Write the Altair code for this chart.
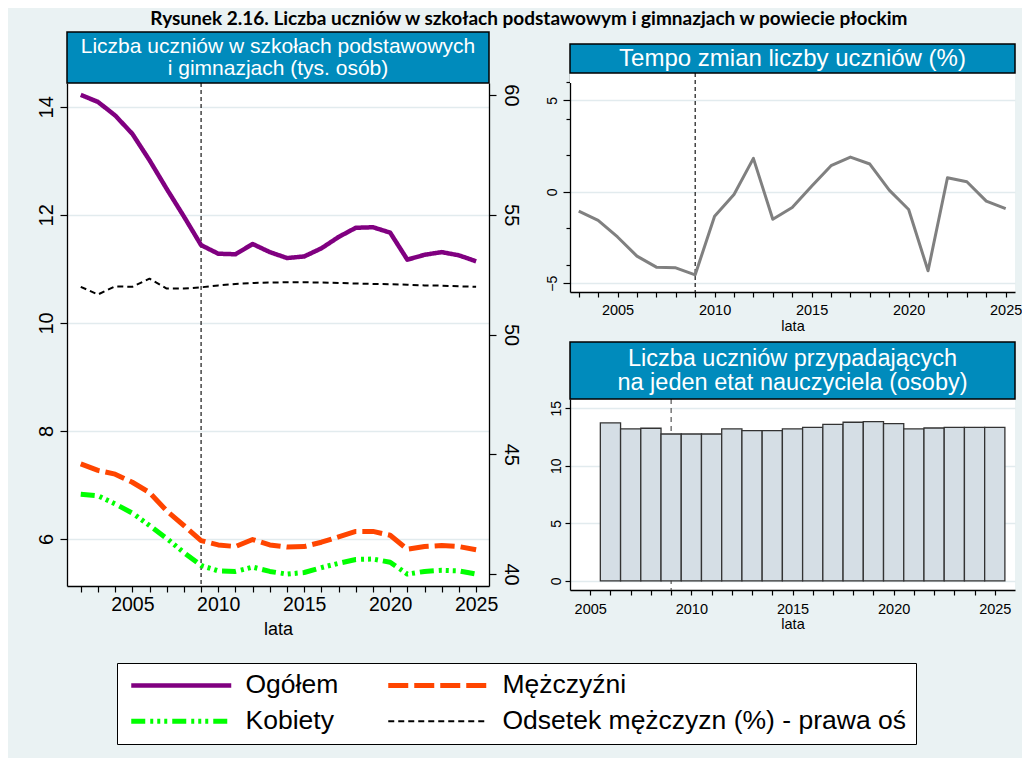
import altair as alt
import pandas as pd

# ---------------- data ----------------
YEARS = list(range(2002, 2026))
OGOLEM = [14.22, 14.09, 13.84, 13.50, 13.01, 12.48, 11.97, 11.44, 11.28, 11.27, 11.46, 11.31,
          11.20, 11.23, 11.38, 11.59, 11.76, 11.77, 11.67, 11.17, 11.26, 11.31, 11.25, 11.14]
MEZCZYZNI = [7.39, 7.27, 7.20, 7.05, 6.86, 6.52, 6.25, 5.97, 5.89, 5.86, 5.99, 5.89,
             5.85, 5.86, 5.94, 6.04, 6.14, 6.14, 6.07, 5.81, 5.86, 5.88, 5.86, 5.80]
KOBIETY = [6.83, 6.80, 6.65, 6.48, 6.25, 6.01, 5.75, 5.51, 5.41, 5.40, 5.48, 5.40,
           5.35, 5.38, 5.47, 5.55, 5.62, 5.63, 5.57, 5.35, 5.40, 5.42, 5.41, 5.35]
ODSETEK = [51.99, 51.67, 52.01, 51.99, 52.33, 51.92, 51.92, 51.97, 52.05, 52.11, 52.15, 52.17,
           52.18, 52.18, 52.17, 52.15, 52.13, 52.11, 52.10, 52.08, 52.05, 52.04, 52.01, 51.99]

TEMPO_YEARS = list(range(2003, 2026))
TEMPO = [-1.06, -1.56, -2.47, -3.52, -4.12, -4.16, -4.54, -1.34, -0.15, 1.83, -1.50, -0.86,
         0.31, 1.43, 1.90, 1.52, 0.09, -0.97, -4.32, 0.77, 0.55, -0.51, -0.92]

RATIO_YEARS = list(range(2006, 2026))
RATIO = [13.72, 13.20, 13.26, 12.76, 12.76, 12.76, 13.20, 13.05, 13.05, 13.20, 13.34, 13.60,
         13.78, 13.84, 13.66, 13.20, 13.28, 13.34, 13.34, 13.34]

DIVIDER_YEAR = 2009

SERIES = ["Ogółem", "Mężczyźni", "Kobiety", "Odsetek mężczyzn (%) - prawa oś"]
COLORS = ["#800080", "#FF4500", "#00FF00", "#000000"]
DASHES = [[1, 0], [20, 6], [14, 5, 3, 4, 3, 4, 3, 5], [6, 4]]
WIDTHS = [4.5, 5, 5, 2]

TITLE = "Rysunek 2.16. Liczba uczniów w szkołach podstawowym i gimnazjach w powiecie płockim"
HEAD_LEFT = ["Liczba uczniów w szkołach podstawowych", "i gimnazjach (tys. osób)"]
HEAD_TR = ["Tempo zmian liczby uczniów (%)"]
HEAD_BR = ["Liczba uczniów przypadających", "na jeden etat nauczyciela (osoby)"]
X_TITLE = "lata"

# ---------------- styles ----------------
BG = "#EAF2F3"
HEADER_BLUE = "#008BBC"
GRID = "#E2EBEE"
FONT = "Liberation Sans"

df_main = pd.DataFrame({
    "year": YEARS * 3,
    "value": OGOLEM + MEZCZYZNI + KOBIETY,
    "series": [SERIES[0]] * len(YEARS) + [SERIES[1]] * len(YEARS) + [SERIES[2]] * len(YEARS),
})
df_pct = pd.DataFrame({"year": YEARS, "pct": ODSETEK, "series": [SERIES[3]] * len(YEARS)})
df_tempo = pd.DataFrame({"year": TEMPO_YEARS, "tempo": TEMPO})
df_ratio = pd.DataFrame({"year": RATIO_YEARS, "ratio": RATIO})
one = pd.DataFrame({"k": [0]})

MAJOR5 = "datum.value % 5 === 0"


def year_axis(values, label_size, title_size, tick, label_pad, title_pad):
    return alt.Axis(values=values, format="d", labelExpr=f"{MAJOR5} ? datum.label : ''",
                    grid=False, tickSize=tick, labelFontSize=label_size, titleFontSize=title_size,
                    labelPadding=label_pad, titlePadding=title_pad, title=X_TITLE,
                    labelFont=FONT, titleFont=FONT, titleFontWeight="normal",
                    domainColor="black", tickColor="black", labelColor="black", titleColor="black",
                    domainWidth=1.3, tickWidth=1.2, labelFlush=False, labelOverlap=False)


def header(width, height, lines, size, line_height, top=0):
    """Header box sitting above the plot area (top = pixel y of the plot's upper edge)."""
    layers = []
    layers.append(alt.Chart(one).mark_rect(fill=HEADER_BLUE, stroke="black", strokeWidth=1.5).encode(
        x=alt.value(0), x2=alt.value(width), y=alt.value(top - height), y2=alt.value(top)))
    first_line_y = top - height / 2 - (len(lines) - 1) * line_height / 2
    layers.append(alt.Chart(one).mark_text(color="white", font=FONT, fontSize=size, lineHeight=line_height,
                                           baseline="middle", align="center").encode(
        x=alt.value(width / 2), y=alt.value(first_line_y), text=alt.value(lines)))
    return layers


# ---------------- left panel ----------------
LW, LH = 422, 503
x_left_scale = alt.Scale(domain=[2001.2, 2025.75], nice=False, zero=False)
x_left_axis = year_axis(YEARS, 19.5, 18, 6, 3, 7)

legend = alt.Legend(orient="none", legendX=50, legendY=580, columns=2, direction="horizontal",
                    title=None, symbolType="M-50,0H50", symbolSize=4, symbolOffset=42,
                    labelFontSize=26.5, labelFont=FONT,
                    labelColor="black", labelLimit=1000, columnPadding=39, rowPadding=9,
                    padding=9, fillColor="white", strokeColor="black", labelOffset=51)
color = alt.Color("series:N", scale=alt.Scale(domain=SERIES, range=COLORS), legend=legend, sort=SERIES)
dash = alt.StrokeDash("series:N", scale=alt.Scale(domain=SERIES, range=DASHES), legend=legend, sort=SERIES)
width = alt.StrokeWidth("series:N", scale=alt.Scale(type="ordinal", domain=SERIES, range=WIDTHS),
                        legend=legend, sort=SERIES)

left_rule = alt.Chart(one).mark_rule(color="black", strokeDash=[4, 3], strokeWidth=1.1).encode(
    x=alt.X(datum=DIVIDER_YEAR, type="quantitative", scale=x_left_scale, axis=x_left_axis))

left_lines = alt.Chart(df_main).mark_line(strokeJoin="round").encode(
    x=alt.X("year:Q", scale=x_left_scale, axis=x_left_axis),
    y=alt.Y("value:Q", scale=alt.Scale(domain=[5.13, 14.44], nice=False, zero=False),
            axis=alt.Axis(values=[6, 8, 10, 12, 14], orient="left", labelAngle=-90, labelAlign="center",
                          labelBaseline="alphabetic", labelPadding=8, tickSize=7, grid=True,
                          gridColor=GRID, gridWidth=1.5, labelFontSize=20, labelFont=FONT,
                          labelColor="black", domainColor="black", tickColor="black",
                          domainWidth=1.3, tickWidth=1.2, title=None)),
    color=color, strokeDash=dash, strokeWidth=width, order=alt.Order("year:Q"))

left_pct = alt.Chart(df_pct).mark_line(strokeJoin="round").encode(
    x=alt.X("year:Q", scale=x_left_scale, axis=x_left_axis),
    y=alt.Y("pct:Q", scale=alt.Scale(domain=[39.5, 60.5], nice=False, zero=False),
            axis=alt.Axis(values=[40, 45, 50, 55, 60], orient="right", labelAngle=90, labelAlign="center",
                          labelBaseline="alphabetic", labelPadding=8, tickSize=7, grid=False,
                          labelFontSize=20, labelFont=FONT, labelColor="black", domainColor="black",
                          tickColor="black", domainWidth=1.3, tickWidth=1.2, title=None)),
    color=color, strokeDash=dash, strokeWidth=width, order=alt.Order("year:Q"))

left = alt.layer(left_rule, left_lines, left_pct,
                 *header(LW, 51, HEAD_LEFT, 21, 22)).resolve_scale(y="independent").properties(
    width=LW, height=LH)

# ---------------- top-right panel ----------------
RW = 445
TRH = 209          # view height; plot area starts TR_TOP px above the view origin
TR_TOP = -10
x_tr_scale = alt.Scale(domain=[2002.55, 2025.48], nice=False, zero=False)
x_tr_axis = year_axis(TEMPO_YEARS, 14.5, 14.5, 5, 6, 3)
tr_bg = alt.Chart(one).mark_rect(fill="white").encode(
    x=alt.value(0), x2=alt.value(RW), y=alt.value(TR_TOP), y2=alt.value(0))
tr_rule = alt.Chart(one).mark_rule(color="black", strokeDash=[4, 3], strokeWidth=1.1).encode(
    x=alt.X(datum=DIVIDER_YEAR, type="quantitative", scale=x_tr_scale, axis=x_tr_axis),
    y=alt.value(TR_TOP), y2=alt.value(TRH))
tr_line = alt.Chart(df_tempo).mark_line(color="#808080", strokeWidth=3, strokeJoin="round").encode(
    x=alt.X("year:Q", scale=x_tr_scale, axis=x_tr_axis),
    y=alt.Y("tempo:Q", scale=alt.Scale(domain=[-5.48, 6.5], nice=False, zero=False, range=[TRH, TR_TOP]),
            axis=alt.Axis(values=[-5, -4, -2, 0, 2, 4, 5, 6], labelExpr=f"{MAJOR5} ? datum.label : ''",
                          labelAngle=-90, labelAlign="center", labelBaseline="alphabetic",
                          labelPadding=7,
                          tickSize={"condition": {"test": MAJOR5, "value": 7}, "value": 4},
                          grid=True, gridColor=GRID, gridWidth=1.5,
                          gridOpacity={"condition": {"test": MAJOR5, "value": 1}, "value": 0},
                          labelFontSize=14, labelFont=FONT, labelColor="black", domainColor="black",
                          tickColor="black", domainWidth=1.3, tickWidth=1.2, title=None)))
top_right = alt.layer(tr_bg, tr_rule, tr_line, *header(RW, 29, HEAD_TR, 24, 24, top=TR_TOP)).properties(
    width=RW, height=TRH)

# ---------------- bottom-right panel ----------------
BRH = 191
x_br_scale = alt.Scale(domain=[2004, 2026], nice=False, zero=False)
x_br_axis = year_axis(list(range(2005, 2026)), 14.5, 14.5, 5, 7, 2)
br_rule = alt.Chart(one).mark_rule(color="#555555", strokeDash=[5, 4], strokeWidth=1.2).encode(
    x=alt.X(datum=DIVIDER_YEAR, type="quantitative", scale=x_br_scale, axis=x_br_axis))
br_bars = alt.Chart(df_ratio).transform_calculate(
    x0="datum.year - 0.5", x1="datum.year + 0.5").mark_rect(
    fill="#D5DEE5", stroke="#333333", strokeWidth=1.3).encode(
    x=alt.X("x0:Q", scale=x_br_scale, axis=x_br_axis),
    x2="x1:Q",
    y=alt.Y("ratio:Q", scale=alt.Scale(domain=[-0.8, 15.8], nice=False, zero=False),
            axis=alt.Axis(values=[0, 5, 10, 15], labelAngle=-90, labelAlign="center",
                          labelBaseline="alphabetic", labelPadding=5, tickSize=5, grid=True,
                          gridColor=GRID, gridWidth=1.5, labelFontSize=14, labelFont=FONT,
                          labelColor="black", domainColor="black", tickColor="black",
                          domainWidth=1.3, tickWidth=1.2, title=None)),
    y2=alt.datum(0))
bottom_right = alt.layer(br_rule, br_bars, *header(RW, 57, HEAD_BR, 23.5, 24)).properties(
    width=RW, height=BRH)

right = alt.vconcat(top_right, bottom_right, spacing=8)

chart = alt.ConcatChart(concat=[left, right], columns=2, spacing=25, align="none").properties(
    title=alt.TitleParams(TITLE, fontSize=19, font="Lato", fontWeight="bold", anchor="middle",
                          offset=2, color="black"),
    padding={"left": 27, "top": 2, "right": 0, "bottom": 18},
).configure(background=BG).configure_view(stroke=None, fill="white")

chart.save("out.html", embed_options={"renderer": "svg", "actions": False})
